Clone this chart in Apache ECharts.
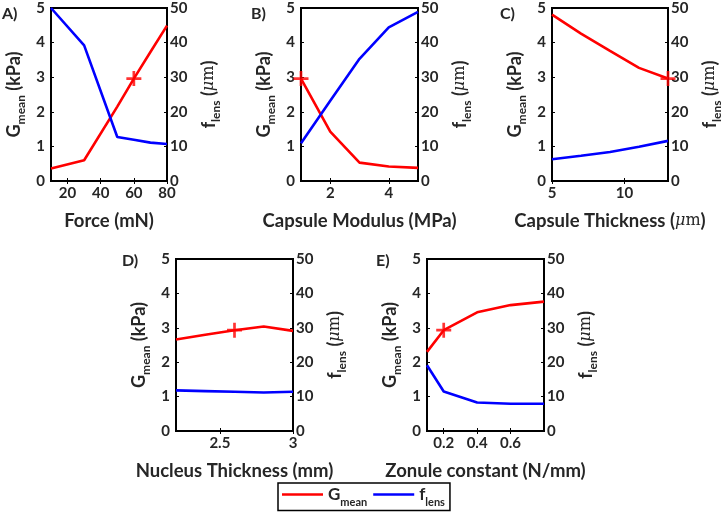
<!DOCTYPE html>
<html><head><meta charset="utf-8">
<script src="https://cdn.jsdelivr.net/npm/echarts@6/dist/echarts.min.js"></script>
<style>html,body{margin:0;padding:0;background:#fff}#c{width:724px;height:520px}</style>
</head><body><div id="c"></div>
<script>
// ---- data ----
const aX = [10, 30, 50, 60, 70, 80];
const aG = [0.36, 0.60, 2.15, 2.96, 3.73, 4.49];
const aF = [50.0, 39.2, 12.7, 11.9, 11.1, 10.7];
const aBase = [60, 2.96];
const aTicks = [20, 40, 60, 80];

const bX = [1, 2, 3, 4, 5];
const bG = [2.96, 1.43, 0.53, 0.42, 0.38];
const bF = [10.9, 23.2, 35.3, 44.4, 48.9];
const bBase = [1, 2.96];
const bTicks = [2, 4];

const cX = [5, 7, 9, 11, 13];
const cG = [4.81, 4.26, 3.76, 3.27, 2.96];
const cF = [6.3, 7.3, 8.4, 9.9, 11.6];
const cBase = [13, 2.96];
const cTicks = [5, 10];

const dX = [2.2, 2.4, 2.6, 2.8, 3.0];
const dG = [2.66, 2.80, 2.93, 3.04, 2.91];
const dF = [11.8, 11.6, 11.4, 11.2, 11.4];
const dBase = [2.6, 2.93];
const dTicks = [2.5, 3];

const eX = [0.1, 0.2, 0.4, 0.6, 0.8];
const eG = [2.30, 2.93, 3.45, 3.66, 3.76];
const eF = [19.1, 11.5, 8.3, 7.9, 7.9];
const eBase = [0.2, 2.93];
const eTicks = [0.2, 0.4, 0.6];

const panelLabels = ['A)', 'B)', 'C)', 'D)', 'E)'];
const xNames = ['{n|Force (mN)}', '{n|Capsule Modulus (MPa)}', '{n|Capsule Thickness (}{i|μ}{r|m}{n|)}', '{n|Nucleus Thickness (mm)}', '{n|Zonule constant (N/mm)}'];
const yLeftName = '{m|G}{s|mean}{m| (kPa)}';
const yRightName = '{m|f}{s|lens}{m| (}{i|μ}{r|m}{m|)}';

// ---- layout ----
const FONT = 'Lato';
const TXT = '#262626';
const panels = [
  {x: aX, g: aG, f: aF, base: aBase, ticks: aTicks, min: 10, max: 80, left: 51, top: 8, w: 116, h: 173, lab: [2, 6]},
  {x: bX, g: bG, f: bF, base: bBase, ticks: bTicks, min: 1, max: 5, left: 301, top: 8, w: 117, h: 173, lab: [251, 6]},
  {x: cX, g: cG, f: cF, base: cBase, ticks: cTicks, min: 5, max: 13, left: 552, top: 8, w: 117, h: 173, lab: [500, 6]},
  {x: dX, g: dG, f: dF, base: dBase, ticks: dTicks, min: 2.2, max: 3, left: 176, top: 259, w: 117, h: 172, lab: [122, 253]},
  {x: eX, g: eG, f: eF, base: eBase, ticks: eTicks, min: 0.1, max: 0.8, left: 427, top: 259, w: 117, h: 172, lab: [376, 253]}
];

const richName = {
  m: {fontFamily: FONT, fontWeight: 'bold', fontSize: 18, color: TXT, lineHeight: 26, verticalAlign: 'middle'},
  s: {fontFamily: FONT, fontWeight: 'bold', fontSize: 12, color: TXT, lineHeight: 26, verticalAlign: 'bottom'},
  i: {fontFamily: 'DejaVu Serif', fontStyle: 'italic', fontWeight: 'normal', fontSize: 16, color: TXT, lineHeight: 26, verticalAlign: 'middle'},
  r: {fontFamily: 'DejaVu Serif', fontWeight: 'normal', fontSize: 16, color: TXT, lineHeight: 26, verticalAlign: 'middle'}
};
const richX = {
  n: {fontFamily: FONT, fontWeight: 'bold', fontSize: 18.5, color: TXT, lineHeight: 20, verticalAlign: 'middle'},
  i: {fontFamily: 'DejaVu Serif', fontStyle: 'italic', fontSize: 16, color: TXT, lineHeight: 20, verticalAlign: 'middle'},
  r: {fontFamily: 'DejaVu Serif', fontSize: 16, color: TXT, lineHeight: 20, verticalAlign: 'middle'}
};
const plusPath = 'path://M4.1,0H5.9V4.1H10V5.9H5.9V10H4.1V5.9H0V4.1H4.1Z';

const grid = [], xAxis = [], yAxis = [], series = [], graphic = [];
const fmtNum = v => String(v);
panels.forEach((p, i) => {
  grid.push({left: p.left, top: p.top, width: p.w, height: p.h, show: true, borderColor: '#000', borderWidth: 2, backgroundColor: '#fff'});
  xAxis.push({
    type: 'value', gridIndex: i, min: p.min, max: p.max, position: 'bottom',
    name: xNames[i], nameLocation: 'middle', nameGap: 30,
    nameTextStyle: {rich: richX},
    axisLine: {show: false}, splitLine: {show: false},
    axisTick: {show: true, inside: true, length: 3, customValues: p.ticks, lineStyle: {color: '#000', width: 1}},
    axisLabel: {customValues: p.ticks, formatter: fmtNum, margin: 5, fontFamily: FONT, fontWeight: 'bold', fontSize: 15, color: TXT}
  });
  xAxis.push({
    type: 'value', gridIndex: i, min: p.min, max: p.max, position: 'top',
    axisLine: {show: false}, splitLine: {show: false},
    axisTick: {show: true, inside: true, length: 3, customValues: p.ticks, lineStyle: {color: '#000', width: 1}},
    axisLabel: {show: false}
  });
  yAxis.push({
    type: 'value', gridIndex: i, min: 0, max: 5, interval: 1, position: 'left',
    name: yLeftName, nameLocation: 'middle', nameRotate: 90, nameGap: 24,
    nameTextStyle: {rich: richName},
    axisLine: {show: false}, splitLine: {show: false},
    axisTick: {show: true, inside: true, length: 3, lineStyle: {color: '#000', width: 1}},
    axisLabel: {margin: 6, fontFamily: FONT, fontWeight: 'bold', fontSize: 15, color: TXT}
  });
  yAxis.push({
    type: 'value', gridIndex: i, min: 0, max: 50, interval: 10, position: 'right',
    name: yRightName, nameLocation: 'middle', nameRotate: 90, nameGap: 29,
    nameTextStyle: {rich: richName},
    axisLine: {show: false}, splitLine: {show: false},
    axisTick: {show: true, inside: true, length: 3, lineStyle: {color: '#000', width: 1}},
    axisLabel: {margin: 3, fontFamily: FONT, fontWeight: 'bold', fontSize: 15, color: TXT}
  });
  series.push({
    type: 'line', name: 'Gmean', xAxisIndex: 2 * i, yAxisIndex: 2 * i,
    data: p.x.map((v, k) => [v, p.g[k]]), symbol: 'none', smooth: false,
    lineStyle: {color: '#ff0000', width: 2.6}, itemStyle: {color: '#ff0000'}, z: 3
  });
  series.push({
    type: 'line', name: 'flens', xAxisIndex: 2 * i, yAxisIndex: 2 * i + 1,
    data: p.x.map((v, k) => [v, p.f[k]]), symbol: 'none', smooth: false,
    lineStyle: {color: '#0000ff', width: 2.6}, itemStyle: {color: '#0000ff'}, z: 4
  });
  series.push({
    type: 'scatter', name: 'base', xAxisIndex: 2 * i, yAxisIndex: 2 * i,
    data: [p.base], symbol: plusPath, symbolSize: 15, itemStyle: {color: '#ff0000'}, z: 5
  });
  graphic.push({type: 'text', left: p.lab[0], top: p.lab[1], style: {text: panelLabels[i], font: 'bold 16px ' + FONT, fill: TXT}});
});

const chart = echarts.init(document.getElementById('c'), null, {renderer: 'canvas'});
chart.setOption({
  animation: false,
  backgroundColor: '#fff',
  grid, xAxis, yAxis, series, graphic,
  legend: {
    data: [{name: 'Gmean', icon: 'rect'}, {name: 'flens', icon: 'rect'}],
    left: 278, top: 483,
    orient: 'horizontal', itemWidth: 41, itemHeight: 2.5, itemGap: 6,
    padding: [3, 5, 3, 4], borderColor: '#000', borderWidth: 1.5,
    formatter: name => name === 'Gmean' ? '{m|G}{s|mean}' : '{m|f}{s|lens}',
    textStyle: {rich: {
      m: {fontFamily: FONT, fontWeight: 'bold', fontSize: 17, color: TXT, lineHeight: 26, verticalAlign: 'middle'},
      s: {fontFamily: FONT, fontWeight: 'bold', fontSize: 11, color: TXT, lineHeight: 26, verticalAlign: 'bottom'}
    }}
  }
});
</script></body></html>
